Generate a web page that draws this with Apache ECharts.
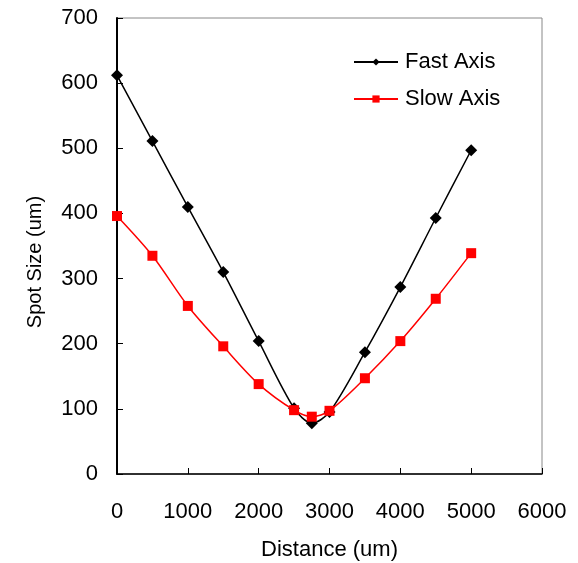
<!DOCTYPE html>
<html><head><meta charset="utf-8">
<script src="https://cdn.jsdelivr.net/npm/echarts@6/dist/echarts.min.js"></script>
<style>html,body{margin:0;padding:0;background:#fff}#c{width:578px;height:563px}</style>
</head><body><div id="c"></div>
<script>
var distance = [0, 500, 1000, 1500, 2000, 2500, 2750, 3000, 3500, 4000, 4500, 5000];
var fastAxis = [612, 511, 410, 310, 204, 101, 78, 95, 187, 287, 393, 497];
var slowAxis = [396, 335, 258, 196, 138, 98, 88, 97, 147, 204, 269, 339];
var xTicks = [0, 1000, 2000, 3000, 4000, 5000, 6000];
var yTicks = [0, 100, 200, 300, 400, 500, 600, 700];

function pairs(xs, ys){ return xs.map(function(x,i){return [x, ys[i]];}); }
var font = 'Liberation Sans, Arial, sans-serif';
var chart = echarts.init(document.getElementById('c'));
chart.setOption({
  animation: false,
  grid: {left: 117, top: 18, right: 36, bottom: 89, containLabel: false, outerBoundsMode: 'none',
         show: true, borderColor: '#888', borderWidth: 1},
  legend: {
    orient: 'vertical', left: 348, top: 46, itemWidth: 44, itemHeight: 9, itemGap: 15,
    textStyle: {fontFamily: font, fontSize: 22, color: '#000', padding: [0,0,0,2]},
    data: ['Fast Axis', 'Slow Axis']
  },
  xAxis: {
    type: 'value', min: xTicks[0], max: xTicks[xTicks.length-1], interval: 1000,
    name: 'Distance (um)', nameLocation: 'middle', nameGap: 65,
    nameTextStyle: {fontFamily: font, fontSize: 22, color: '#000'},
    axisLine: {show: true, lineStyle: {color: '#000', width: 1.5}},
    axisTick: {show: true, inside: true, length: 6, lineStyle: {color: '#000'}},
    axisLabel: {fontFamily: font, fontSize: 22, color: '#000', margin: 27,
      formatter: function(v){ return String(v); }},
    splitLine: {show: false}
  },
  yAxis: {
    type: 'value', min: yTicks[0], max: yTicks[yTicks.length-1], interval: 100,
    name: 'Spot Size (um)', nameLocation: 'middle', nameGap: 72, nameRotate: 90,
    nameTextStyle: {fontFamily: font, fontSize: 20, color: '#000', padding: [0, 32, 0, 0]},
    axisLine: {show: true, lineStyle: {color: '#000', width: 2}},
    axisTick: {show: true, inside: true, length: 6, lineStyle: {color: '#000'}},
    axisLabel: {fontFamily: font, fontSize: 22, color: '#000', margin: 19,
      formatter: function(v){ return String(v); }},
    splitLine: {show: false}
  },
  series: [
    {name: 'Fast Axis', type: 'line', data: pairs(distance, fastAxis), smooth: 0.3,
     symbol: 'diamond', symbolSize: 12, itemStyle: {color: '#000'},
     lineStyle: {color: '#000', width: 1.5}},
    {name: 'Slow Axis', type: 'line', data: pairs(distance, slowAxis), smooth: 0.3,
     symbol: 'rect', symbolSize: 10, itemStyle: {color: '#ff0000'},
     lineStyle: {color: '#ff0000', width: 1.5}}
  ]
});
</script></body></html>
